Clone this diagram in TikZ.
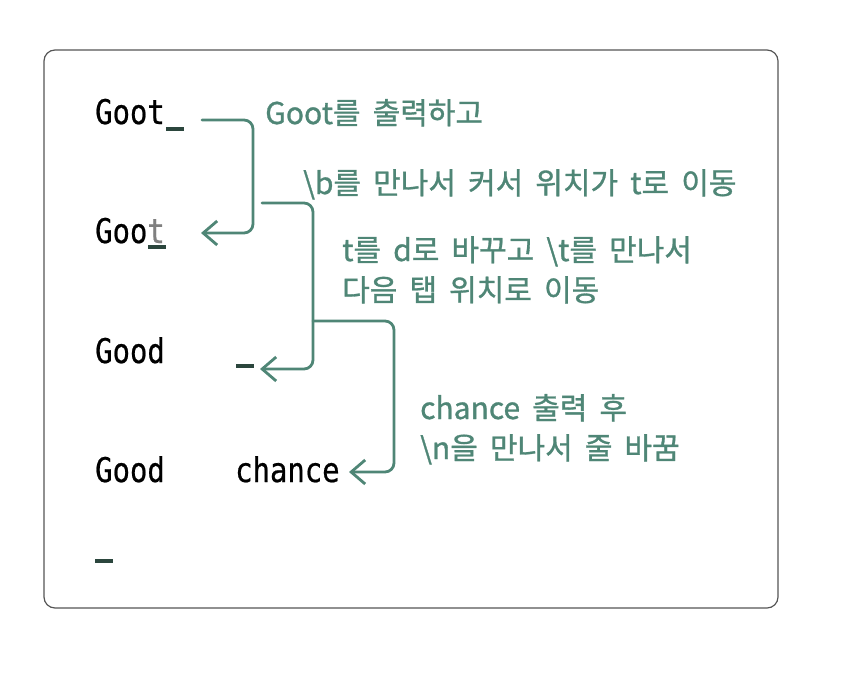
\documentclass[tikz,border=0pt]{standalone}
\usepackage{fontspec}
\usetikzlibrary{arrows.meta}
\newfontfamily\codefont[FakeStretch=0.85,FakeBold=0.6]{DejaVu Sans Mono}
\newfontfamily\notefont[FakeBold=1,WordSpace=1.8]{Noto Sans CJK KR}
\definecolor{notegreen}{HTML}{4F8676}
\definecolor{cursorgreen}{HTML}{2B463D}
\definecolor{boxgray}{HTML}{555555}

\begin{document}
\begin{tikzpicture}[x=1pt,y=-1pt]
\tikzstyle{code text}=[anchor=base west,inner sep=0pt,font=\codefont\fontsize{34}{40}\selectfont,text=black]
\tikzstyle{note text}=[anchor=base west,inner sep=0pt,font=\notefont\fontsize{30}{36}\selectfont,text=notegreen]
\tikzstyle{cursor bar}=[anchor=north west,inner sep=0pt,minimum width=18pt,minimum height=4pt,fill=cursorgreen]
\tikzstyle{move arrow}=[draw=notegreen,line width=2.8pt,rounded corners=9pt,line cap=round,-{Straight Barb[length=14pt,width=24pt]}]
\useasboundingbox (0,0) rectangle (842,688);
\draw[boxgray,line width=1.2pt,rounded corners=11pt] (44,50) rectangle (778,608);
% console lines
\node[code text] (row1) at (95,124) {Goot};
\node[cursor bar] (cur1) at (166,127) {};
\node[code text] (row2) at (95,243) {Goo\textcolor{gray}{t}};
\node[cursor bar] (cur2) at (148,245) {};
\node[code text] (row3) at (95,363) {Good};
\node[cursor bar] (cur3) at (236,364) {};
\node[code text] (row4) at (95,482) {Good};
\node[code text] (chance) at (235,482) {chance};
\node[cursor bar] (cur5) at (95,559) {};
% notes
\node[note text] (note1) at (265,124) {Goot를 출력하고};
\node[note text] (note2) at (303,194) {\textbackslash b를 만나서 커서 위치가 t로 이동};
\node[note text] (note3) at (342,261) {t를 d로 바꾸고 \textbackslash t를 만나서};
\node[note text] (note4) at (342,301) {다음 탭 위치로 이동};
\node[note text] (note5) at (420,419) {chance 출력 후};
\node[note text] (note6) at (420,459) {\textbackslash n을 만나서 줄 바꿈};
% arrows
\coordinate (a1s) at (202,120);
\coordinate (a1e) at (201,233);
\coordinate (a2s) at (262,203);
\coordinate (a2e) at (260,369);
\coordinate (a3s) at (313,321);
\coordinate (a3e) at (349,472);
\draw[move arrow] (a1s) -- ++(51,0) |- (a1e);
\draw[move arrow] (a2s) -- ++(51,0) |- (a2e);
\draw[move arrow] (a3s) -- ++(81,0) |- (a3e);
\end{tikzpicture}
\end{document}
